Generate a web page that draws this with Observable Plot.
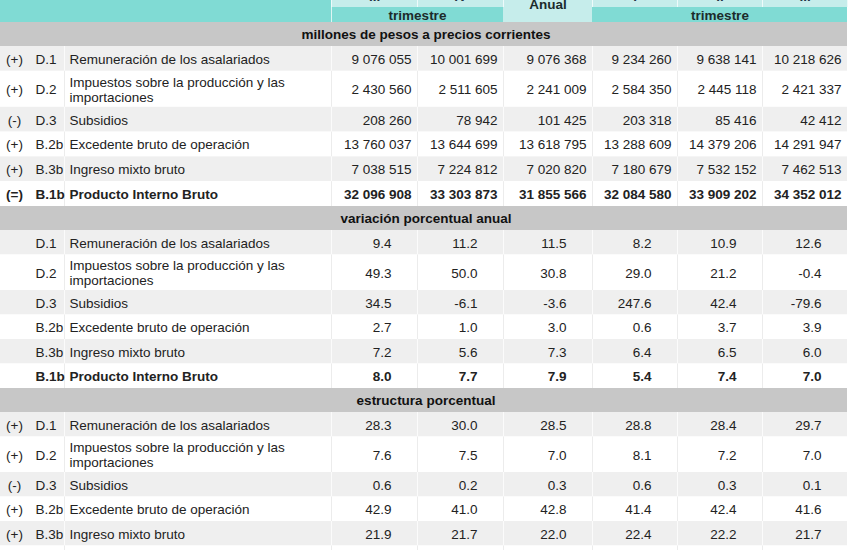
<!DOCTYPE html>
<html><head><meta charset="utf-8">
<script src="https://cdn.jsdelivr.net/npm/d3@7"></script>
<script src="https://cdn.jsdelivr.net/npm/@observablehq/plot@0.6"></script>
<style>body{margin:0;background:#fff} #chart svg{display:block}</style>
</head><body><div id="chart"></div>
<script>
// ---- data ----
const prefixes = ["(+)", "(+)", "(-)", "(+)", "(+)", "(=)"];
const codes = ["D.1", "D.2", "D.3", "B.2b", "B.3b", "B.1b"];
const labels = ["Remuneración de los asalariados", "Impuestos sobre la producción y las\nimportaciones", "Subsidios", "Excedente bruto de operación", "Ingreso mixto bruto", "Producto Interno Bruto"];
const sectionTitles = ["millones de pesos a precios corrientes", "variación porcentual anual", "estructura porcentual"];
const periodLabels = ["III", "IV", "Anual", "I", "II", "III"];
const groupLabels = ["trimestre", "trimestre"];
const millones = [
  [9076055, 10001699, 9076368, 9234260, 9638141, 10218626],
  [2430560, 2511605, 2241009, 2584350, 2445118, 2421337],
  [208260, 78942, 101425, 203318, 85416, 42412],
  [13760037, 13644699, 13618795, 13288609, 14379206, 14291947],
  [7038515, 7224812, 7020820, 7180679, 7532152, 7462513],
  [32096908, 33303873, 31855566, 32084580, 33909202, 34352012]
];
const variacion = [
  [9.4, 11.2, 11.5, 8.2, 10.9, 12.6],
  [49.3, 50.0, 30.8, 29.0, 21.2, -0.4],
  [34.5, -6.1, -3.6, 247.6, 42.4, -79.6],
  [2.7, 1.0, 3.0, 0.6, 3.7, 3.9],
  [7.2, 5.6, 7.3, 6.4, 6.5, 6.0],
  [8.0, 7.7, 7.9, 5.4, 7.4, 7.0]
];
const estructura = [
  [28.3, 30.0, 28.5, 28.8, 28.4, 29.7],
  [7.6, 7.5, 7.0, 8.1, 7.2, 7.0],
  [0.6, 0.2, 0.3, 0.6, 0.3, 0.1],
  [42.9, 41.0, 42.8, 41.4, 42.4, 41.6],
  [21.9, 21.7, 22.0, 22.4, 22.2, 21.7]
];

// ---- layout / style ----
const TEAL = "#80dbd4", LIGHT = "#c6edeb", GREY = "#c7c7c7", ROWG = "#efefef", TXT = "#222";
const tableRight = 847;
const colLeft = [331, 417, 503, 592, 677, 762];
const colRight = [417, 503, 592, 677, 762, 847];
const loc = d3.formatLocale({thousands: " ", grouping: [3], decimal: ".", minus: "-"});
const fmtInt = loc.format(",d");
const fmtPct = loc.format(".1f");

const rects = [], seps = [], texts = [];
function T(x, y, text, anchor, bold, fill = TXT) { texts.push({x, y, text, anchor, bold, fill}); }

// header
rects.push({x1: 0, x2: colLeft[0], y1: 0, y2: 22, fill: TEAL});
colLeft.forEach((l, j) => {
  if (j === 2) rects.push({x1: l, x2: colRight[j], y1: 0, y2: 22, fill: LIGHT});
  else rects.push({x1: l, x2: colRight[j], y1: 0, y2: 7, fill: LIGHT});
});
rects.push({x1: colLeft[0], x2: colRight[1], y1: 7, y2: 22, fill: TEAL});
rects.push({x1: colLeft[3], x2: colRight[5], y1: 7, y2: 22, fill: TEAL});
[331, 417, 503, 592, 677, 762, 847].forEach(x => seps.push({x, y1: 0, y2: 7, stroke: "#eefafa"}));
seps.push({x: 331, y1: 7, y2: 22, stroke: "#dff5f3"});
periodLabels.forEach((p, j) => { if (j !== 2) T((colLeft[j] + colRight[j]) / 2, -4, p, "middle", true, "#234"); });
T((colLeft[2] + colRight[2]) / 2, 3.5, periodLabels[2], "middle", true, "#1c2b2b");
T((colLeft[0] + colRight[1]) / 2, 15, groupLabels[0], "middle", true, "#1c2b2b");
T((colLeft[3] + colRight[5]) / 2, 15, groupLabels[1], "middle", true, "#1c2b2b");

// sections
const sections = [
  {title: sectionTitles[0], values: millones, fmt: fmtInt, showPrefix: true, pad: 6, h: 24.8, h2: 36},
  {title: sectionTitles[1], values: variacion, fmt: fmtPct, showPrefix: false, pad: 26, h: 24.5, h2: 35.5},
  {title: sectionTitles[2], values: estructura, fmt: fmtPct, showPrefix: true, pad: 26, h: 24.5, h2: 35.5}
];
let y = 22;
sections.forEach(sec => {
  rects.push({x1: 0, x2: tableRight, y1: y, y2: y + 24, fill: GREY});
  T(tableRight / 2 + 2, y + 12, sec.title, "middle", true, "#111");
  y += 24;
  codes.forEach((code, i) => {
    const h = i === 1 ? sec.h2 : sec.h;
    const grey = i % 2 === 0;
    rects.push({x1: 0, x2: tableRight, y1: y, y2: y + h, fill: grey ? ROWG : "#ffffff"});
    [64, 331, 417, 503, 592, 677, 762].forEach(x => seps.push({x, y1: y, y2: y + h, stroke: grey ? "#fbfbfb" : "#ececec"}));
    const row = sec.values[i];
    if (row) {
      const cy = y + h / 2;
      const bold = i === 5;
      if (sec.showPrefix) T(14, cy, prefixes[i], "middle", bold);
      T(35, cy, code, "start", bold);
      T(69, cy, labels[i], "start", bold);
      row.forEach((v, j) => T(colRight[j] - sec.pad, cy, sec.fmt(v), "end", bold));
    }
    y += h;
  });
});

const font = "'Liberation Sans', Arial, Helvetica, sans-serif";
const textMarks = [];
for (const anchor of ["start", "middle", "end"]) for (const bold of [false, true]) {
  const d = texts.filter(t => t.anchor === anchor && t.bold === bold);
  if (d.length) textMarks.push(Plot.text(d, {x: "x", y: "y", text: "text", fill: "fill", textAnchor: anchor,
    fontWeight: bold ? "bold" : "normal", fontSize: 13.5, fontFamily: font, lineHeight: 1.12}));
}

const chart = Plot.plot({
  width: 850, height: 550, margin: 0,
  x: {domain: [0, 850], range: [0, 850], axis: null},
  y: {domain: [0, 550], range: [0, 550], axis: null},
  color: {type: "identity"},
  style: {background: "#fff"},
  marks: [
    Plot.rect(rects, {x1: "x1", x2: "x2", y1: "y1", y2: "y2", fill: "fill"}),
    Plot.ruleX(seps, {x: "x", y1: "y1", y2: "y2", stroke: "stroke", strokeWidth: 1}),
    ...textMarks
  ]
});
document.getElementById("chart").append(chart);
</script></body></html>
